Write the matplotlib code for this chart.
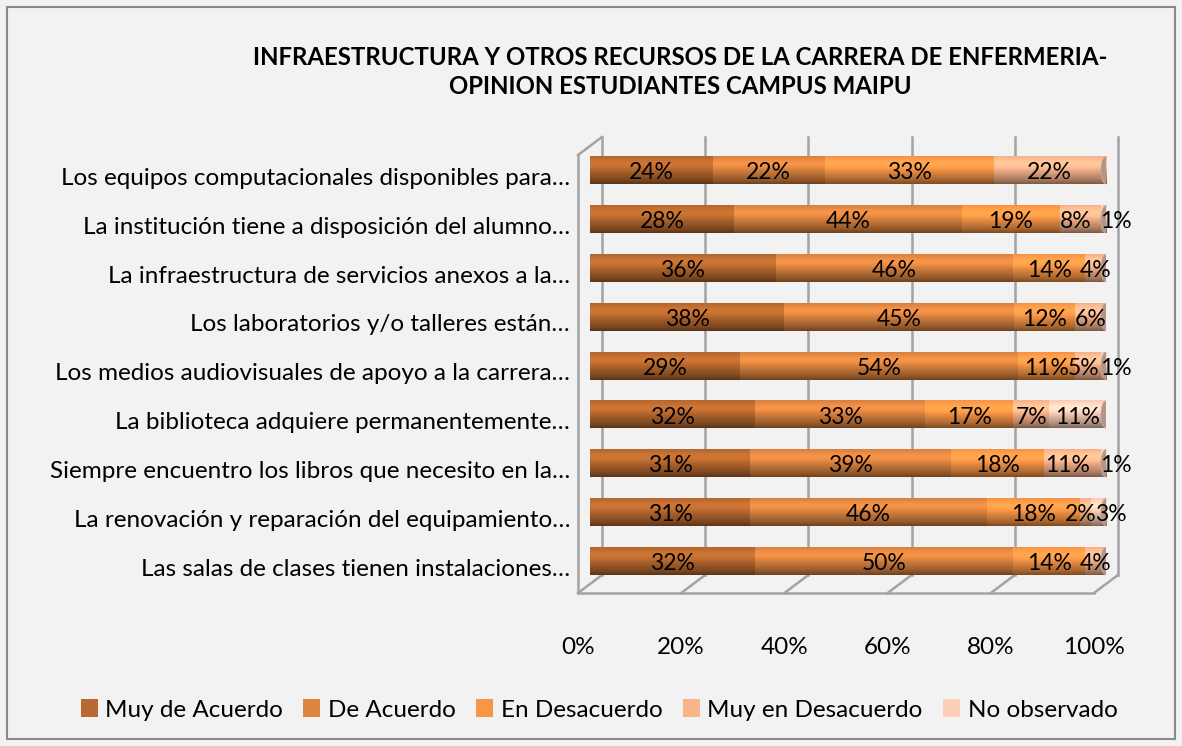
import numpy as np
import matplotlib
matplotlib.use("Agg")
import matplotlib.pyplot as plt
import matplotlib.transforms as mtransforms
from matplotlib.patches import Ellipse, Patch, Rectangle

plt.rcParams['font.family'] = ['Lato', 'DejaVu Sans']

# ---------------- data (top row first) ----------------
preguntas = [
    "Los equipos computacionales disponibles para…",
    "La institución tiene a disposición del alumno…",
    "La infraestructura de servicios anexos a la…",
    "Los laboratorios y/o talleres están…",
    "Los medios audiovisuales de apoyo a la carrera…",
    "La biblioteca adquiere permanentemente…",
    "Siempre encuentro los libros que necesito en la…",
    "La renovación y reparación del equipamiento…",
    "Las salas de clases tienen instalaciones…",
]
series = ["Muy de Acuerdo", "De Acuerdo", "En Desacuerdo",
          "Muy en Desacuerdo", "No observado"]
muy_de_acuerdo = [24, 28, 36, 38, 29, 32, 31, 31, 32]
de_acuerdo = [22, 44, 46, 45, 54, 33, 39, 46, 50]
en_desacuerdo = [33, 19, 14, 12, 11, 17, 18, 18, 14]
muy_en_desacuerdo = [22, 8, 4, 6, 5, 7, 11, 2, 4]
no_observado = [0, 1, 0, 0, 1, 11, 1, 3, 0]
colores = ["#b8692f", "#dc8440", "#f99646", "#f9b48c", "#fbcfb9"]
xticks = [0, 20, 40, 60, 80, 100]
# -------------------------------------------------------

W, H, DPI = 1182, 746, 100
FS = 17

fig = plt.figure(figsize=(W / DPI, H / DPI), dpi=DPI)
fig.patch.set_facecolor("#f2f2f2")
fig.patches.append(Rectangle((7 / W, 7 / H), 1 - 14 / W, 1 - 14 / H,
                             transform=fig.transFigure, fill=False,
                             edgecolor="#8a8a8a", lw=1.5))

# axes = middle plane where the cylinders sit
ax_l, ax_r, ax_t, ax_b = 590, 1106, 146, 584
ax = fig.add_axes([ax_l / W, 1 - ax_b / H, (ax_r - ax_l) / W, (ax_b - ax_t) / H])
ax.set_facecolor("none")
for s in ax.spines.values():
    s.set_visible(False)

# 3D depth: back wall +12px right/+9px up, front plane the opposite
px_x, px_y = 12, 9
DX = 100 * px_x / (ax_r - ax_l)
DY = px_y / (ax_b - ax_t)

datos = np.array([muy_de_acuerdo, de_acuerdo, en_desacuerdo,
                  muy_en_desacuerdo, no_observado], dtype=float)
n = len(preguntas)
ypos = np.arange(n)[::-1]
alto = 0.57

bl = mtransforms.blended_transform_factory(ax.transData, ax.transAxes)
gris = "#a3a3a3"

# back wall gridlines and floor
for x in xticks:
    ax.plot([x + DX, x + DX], [DY, 1 + DY], transform=bl, color=gris, lw=1.8,
            clip_on=False, zorder=0)
    ax.plot([x + DX, x - DX], [DY, -DY], transform=bl, color=gris, lw=1.8,
            clip_on=False, zorder=0)
ax.plot([-DX, 100 - DX], [-DY, -DY], transform=bl, color=gris, lw=1.8,
        clip_on=False, zorder=0)
# left side wall
ax.plot([-DX, -DX], [-DY, 1 - DY], transform=bl, color=gris, lw=1.8,
        clip_on=False, zorder=0)
ax.plot([-DX, DX], [1 - DY, 1 + DY], transform=bl, color=gris, lw=1.8,
        clip_on=False, zorder=0)

# cylinder shading profile (top -> bottom)
t = np.linspace(0, 1, 40)
perfil = 0.95 + 0.18 * np.exp(-((t - 0.28) / 0.22) ** 2) - 0.45 * t ** 3

def grad(color):
    rgb = np.array(matplotlib.colors.to_rgb(color))
    img = np.clip(perfil[:, None] * rgb[None, :], 0, 1)
    return img[:, None, :]

tapa = "#b3948a"
for i, y in enumerate(ypos):
    fila = datos[:, i]
    frac = fila / fila.sum() * 100
    # tiny slice at the end: its label goes past the cap, the one before shifts left
    cola = frac[-1] > 0 and frac[-1] <= 3.5
    izq = 0.0
    # rounded left end
    ax.add_patch(Ellipse((0, y), DX * 0.8, alto,
                         facecolor=np.array(matplotlib.colors.to_rgb(colores[0])) * 0.95,
                         edgecolor="none", zorder=2))
    for k in range(len(series)):
        w = frac[k]
        if w <= 0:
            continue
        ax.imshow(grad(colores[k]), extent=[izq, izq + w, y - alto / 2, y + alto / 2],
                  aspect="auto", origin="upper", interpolation="bilinear", zorder=3)
        xc = izq + w / 2
        if cola and k == len(series) - 1:
            xc += 2.4
        elif cola and k == len(series) - 2:
            xc -= 0.9
        ax.text(xc, y - 0.05, f"{int(fila[k])}%", ha="center", va="center",
                fontsize=FS - 0.5, color="black", zorder=6)
        izq += w
    # end face of the cylinder
    ax.add_patch(Ellipse((100, y), DX * 0.85, alto * 0.98, facecolor=tapa,
                         edgecolor="#c9aa9c", lw=0.6, zorder=4))

ax.set_xlim(0, 100)
ax.set_ylim(-0.47, n - 1 + 0.5)

# category labels on the front plane
lbl = mtransforms.blended_transform_factory(ax.transAxes, ax.transData) + \
    mtransforms.ScaledTranslation(-20 / DPI, -8 / DPI, fig.dpi_scale_trans)
for p, y in zip(preguntas, ypos):
    ax.text(0, y, p, transform=lbl, ha="right", va="center", fontsize=FS + 0.5)

ax.set_yticks([])
ax.set_xticks(xticks)
ax.set_xticklabels([f"{v}%" for v in xticks], fontsize=FS + 0.5)
ax.tick_params(axis="x", length=0, pad=38)
desplaza = mtransforms.ScaledTranslation(-px_x / DPI, 0, fig.dpi_scale_trans)
for tl in ax.get_xticklabels():
    tl.set_transform(tl.get_transform() + desplaza)

fig.text(680 / W, 1 - 72 / H,
         "INFRAESTRUCTURA Y OTROS RECURSOS DE LA CARRERA DE ENFERMERIA-\n"
         "OPINION ESTUDIANTES CAMPUS MAIPU",
         ha="center", va="center", fontsize=17.3, fontweight="bold",
         linespacing=1.3)

handles = [Patch(facecolor=c, edgecolor="none") for c in colores]
fig.legend(handles, series, loc="center", bbox_to_anchor=(599 / W, 1 - 710 / H),
           ncol=5, frameon=False, fontsize=FS + 0.5, handlelength=0.7, handleheight=0.7,
           handletextpad=0.3, columnspacing=0.85)

fig.savefig("out.png", dpi=DPI, facecolor=fig.get_facecolor())
